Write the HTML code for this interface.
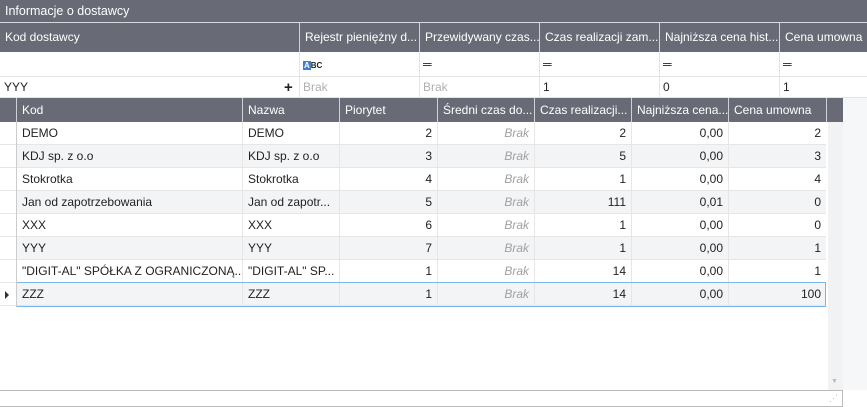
<!DOCTYPE html><html><head><meta charset="utf-8"><style>
*{box-sizing:border-box;margin:0;padding:0}
body{width:867px;height:407px;overflow:hidden;background:#fff;font-family:"Segoe UI","Liberation Sans",sans-serif;font-size:12px;color:#222;position:relative}
.a{position:absolute;white-space:nowrap;overflow:hidden}
.h{background:#686b75;color:#fff}
.t{line-height:23px;padding:0 5px}
.r{text-align:right}
.g{color:#a0a0a0;font-style:italic}
</style></head><body>
<div class="a h" style="left:0;top:0;width:867px;height:22px;line-height:22px;padding-left:5px;font-size:12.5px">Informacje o dostawcy</div>
<div class="a" style="left:0;top:22px;width:867px;height:1px;background:#d8d9dc"></div>
<div class="a h" style="left:0;top:23px;width:867px;height:29px"></div>
<div class="a" style="left:0;top:52px;width:867px;height:25px;border-bottom:1px solid #e4e4e4"></div>
<div class="a" style="left:0;top:77px;width:867px;height:21px;border-bottom:1px solid #e4e4e4"></div>
<div class="a" style="left:0;top:98px;width:843px;height:24px;background:#686b75"></div>
<div class="a" style="left:843px;top:98px;width:24px;height:292px;background:#f6f7f8"></div>
<div class="a" style="left:828px;top:122px;width:15px;height:268px;background:#f1f2f3"></div>
<div class="a" style="left:831px;top:378px;color:#bbb;font-size:7px">▼</div>
<div class="a" style="left:0;top:390px;width:843px;height:17px;border:1px solid #bbb;border-left:none"></div>
<div class="a" style="left:829px;top:394px;color:#bbb;font-size:9px;line-height:9px">⋰</div>
<div id="top"></div>
<script>
var tc=[[0,299,"Kod dostawcy"],[299,419,"Rejestr pieniężny d..."],[419,539,"Przewidywany czas..."],[539,659,"Czas realizacji zam..."],[659,779,"Najniższa cena hist..."],[779,867,"Cena umowna"]];
var row2=["YYY","Brak","Brak","1","0","1"];
var s="";
tc.forEach(function(c,i){
 s+='<div class="a" style="left:'+c[0]+'px;top:23px;width:'+(c[1]-c[0])+'px;height:29px;line-height:29px;padding-left:5px;color:#fff;border-left:'+(i?1:0)+'px solid #d0d1d4">'+c[2]+'</div>';
 if(i){s+='<div class="a" style="left:'+c[0]+'px;top:52px;width:1px;height:46px;background:#e4e4e4"></div>';
  s+='<div class="a" style="left:'+(c[0]+4)+'px;top:52px;height:25px;line-height:25px;font-size:12px">'+(i==1?'<span style="background:#3f7fd0;color:#fff;font-size:8px;font-weight:bold;padding:0 1px">A</span><span style="font-size:8px;font-weight:bold">BC</span>':'═')+'</div>';}
 s+='<div class="a" style="left:'+(c[0]+4)+'px;top:77px;height:21px;line-height:21px;color:'+(row2[i]=="Brak"?"#b0b0b0":"#222")+'">'+row2[i]+'</div>';
});
s+='<div class="a" style="left:284px;top:77px;line-height:21px;font-size:15px;font-weight:bold">+</div>';
var ic=[[16,242,"Kod"],[242,339,"Nazwa"],[339,437,"Piorytet"],[437,534,"Średni czas do..."],[534,631,"Czas realizacji..."],[631,728,"Najniższa cena..."],[728,826,"Cena umowna"],[826,843,""]];
ic.forEach(function(c){s+='<div class="a" style="left:'+c[0]+'px;top:98px;width:'+(c[1]-c[0])+'px;height:24px;line-height:24px;padding-left:5px;color:#fff;border-left:1px solid #d0d1d4">'+c[2]+'</div>';});
var d=[["DEMO","DEMO",2,2,"0,00",2],["KDJ sp. z o.o","KDJ sp. z o.o",3,5,"0,00",3],["Stokrotka","Stokrotka",4,1,"0,00",4],["Jan od zapotrzebowania","Jan od zapotr...",5,111,"0,01",0],["XXX","XXX",6,1,"0,00",0],["YYY","YYY",7,1,"0,00",1],["\"DIGIT-AL\" SPÓŁKA Z OGRANICZONĄ...","\"DIGIT-AL\" SP...",1,14,"0,00",1],["ZZZ","ZZZ",1,14,"0,00",100]];
d.forEach(function(r,k){var y=122+k*23;var bg=k%2?"#f3f4f6":"#fff";
 s+='<div class="a" style="left:0;top:'+y+'px;width:826px;height:23px;border-bottom:1px solid #e6e6e6"></div>';
 s+='<div class="a" style="left:16px;top:'+y+'px;width:810px;height:23px;background:'+bg+';border-bottom:1px solid #e6e6e6"></div>';
 var v=[r[0],r[1],r[2],"Brak",r[3],r[4],r[5]];
 for(var j=0;j<7;j++){var c=ic[j];
  if(j) s+='<div class="a" style="left:'+c[0]+'px;top:'+y+'px;width:1px;height:23px;background:#e6e6e6"></div>';
  s+='<div class="a t'+(j>1?' r':'')+(j==3?' g':'')+'" style="left:'+c[0]+'px;top:'+y+'px;width:'+(c[1]-c[0])+'px;padding-left:'+(j<2?6:5)+'px">'+v[j]+'</div>';}
 if(k==7) s+='<div class="a" style="left:16px;top:'+(y-1)+'px;width:810px;height:25px;border:1px solid #7ab6ea"></div>';
});
s+='<div class="a" style="left:16px;top:122px;width:1px;height:185px;background:#ccc"></div>';
s+='<div class="a" style="left:5px;top:291px;width:0;height:0;border-left:4px solid #333;border-top:4px solid transparent;border-bottom:4px solid transparent"></div>';
document.getElementById("top").outerHTML=s;
</script>
</body></html>
